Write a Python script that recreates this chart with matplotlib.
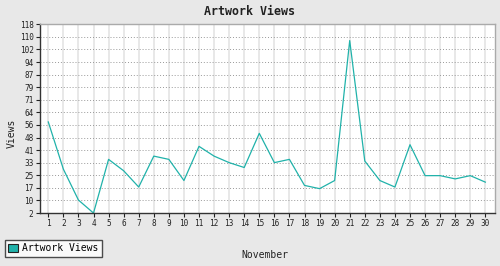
import matplotlib
matplotlib.use('Agg')
import matplotlib.pyplot as plt
import numpy as np
from matplotlib.patches import Patch

# Data
days = list(range(1, 31))
views = [58, 29, 10, 2, 35, 28, 18, 37, 35, 22,
         43, 37, 33, 30, 51, 33, 35, 19, 17, 22,
         108, 34, 22, 18, 44, 25, 25, 23, 25, 21]
y_labels = ['2', '10', '17', '25', '33', '41', '48', '56',
            '64', '71', '79', '87', '94', '102', '110', '118']
y_ticks = np.linspace(2, 118, len(y_labels))

line_color = '#20b2aa'
plt.rcParams['font.family'] = ['DejaVu Sans Mono']

fig = plt.figure(figsize=(5, 2.66), dpi=100, facecolor='#e8e8e8')
ax = fig.add_axes([0.0794, 0.199, 0.9106, 0.7096])
ax.set_facecolor('white')

ax.plot(days, views, color=line_color, linewidth=0.9)

ax.set_xlim(0.43, 30.64)
ax.set_ylim(2, 118)
ax.set_xticks(days)
ax.set_xticklabels([str(d) for d in days])
ax.set_yticks(y_ticks)
ax.set_yticklabels(y_labels)
ax.tick_params(labelsize=5.6, length=3, width=0.8, pad=1.5, colors='#222222')

# grid: solid light verticals, dotted horizontals
ax.grid(axis='x', color='#e2e2e2', linestyle='-', linewidth=1.1)
ax.grid(axis='y', color='#999999', linestyle=(0, (1, 2)), linewidth=0.7)
ax.set_axisbelow(True)

for side in ['left', 'bottom']:
    ax.spines[side].set_color('#333333')
    ax.spines[side].set_linewidth(1)
for side in ['top', 'right']:
    ax.spines[side].set_color('#aaaaaa')
    ax.spines[side].set_linewidth(1)

fig.text(0.5, 0.955, 'Artwork Views', ha='center', va='center',
         fontsize=8.4, fontweight='bold', color='#222222')
fig.text(0.53, 0.04, 'November', ha='center', va='center', fontsize=7, color='#222222')
fig.text(0.024, 0.5, 'Views', ha='center', va='center', rotation=90,
         fontsize=7, color='#222222')

handle = Patch(facecolor=line_color, edgecolor='#222222', linewidth=0.8)
leg = fig.legend([handle], ['Artwork Views'], loc='lower left',
                 bbox_to_anchor=(0.01, 0.035), fontsize=7, frameon=True,
                 fancybox=False, handlelength=1.0, handleheight=1.0,
                 handletextpad=0.4, borderpad=0.35, borderaxespad=0)
leg.get_frame().set_edgecolor('#222222')
leg.get_frame().set_linewidth(1)

plt.savefig('out.png', dpi=100, facecolor=fig.get_facecolor())
